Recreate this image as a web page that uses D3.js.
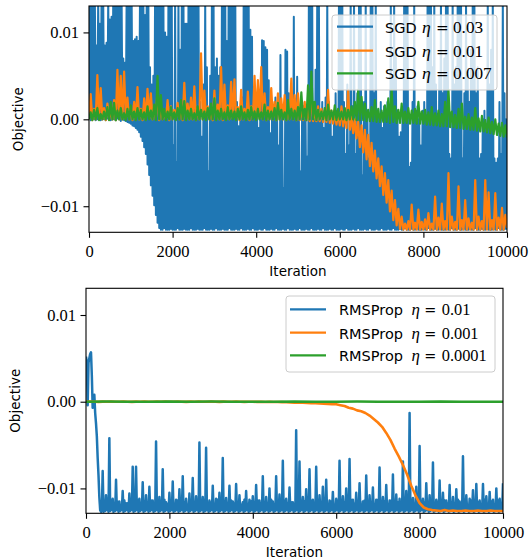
<!DOCTYPE html>
<html><head><meta charset="utf-8">
<script src="https://cdn.jsdelivr.net/npm/d3@7"></script>
<style>body{margin:0;background:#fff}svg{display:block}</style>
</head><body>
<svg id="c" width="529" height="560"></svg>
<script>
// ---------------- data (objective value vs iteration, evenly sampled over 0..10000) ----------------
const ITER_MAX = 10000;
const xTicks = [0, 2000, 4000, 6000, 8000, 10000];
const xTickLabels = ["0", "2000", "4000", "6000", "8000", "10000"];
const yTicks = [-0.01, 0, 0.01];
const yTickLabels = ["\u22120.01", "0.00", "0.01"];
const colors = ["#1f77b4", "#ff7f0e", "#2ca02c"];

const sgdNames = ["SGD", "SGD", "SGD"];
const sgdEtas = ["0.03", "0.01", "0.007"];
const rmsNames = ["RMSProp", "RMSProp", "RMSProp"];
const rmsEtas = ["0.01", "0.001", "0.0001"];

// SGD eta = 0.03 (sample every 20 iterations)
const sgd003 = [
0,.014,-.0001,.014,.0001,.014,0,.014,-.0001,.0085,0,.014,.0001,.011,-.0001,.014,0,.014,0,.0085,
-.0001,.0088,.0001,.014,0,.0115,-.0001,.0118,0,.014,0,.014,-.0001,.014,.0001,.014,0,.014,-.0002,.014,
0,.007,-.0001,.0065,-.0002,.014,-.0003,.014,-.0004,.014,-.0005,.014,-.0007,.009,-.0008,.0092,-.001,.0095,-.0012,.009,
-.0015,.014,-.002,.014,-.0025,.014,-.0032,.012,-.004,.014,-.0052,.014,-.0064,.006,-.0076,.004,-.0088,.005,-.0099,.014,
-.011,.014,-.0119,.014,-.0125,.014,-.0127,.014,-.0127,.014,-.0125,.01,-.0127,.0095,-.0127,.014,-.0127,.014,-.0126,.014,
-.0127,-.003,-.0127,.014,-.0127,-.005,-.0125,.014,-.0127,.008,-.0127,.014,-.0127,.014,-.0126,.011,-.0127,.011,-.0127,.014,
-.0127,.014,-.0125,.014,-.0127,.013,-.0127,.014,-.0127,.014,-.0126,.014,-.0127,.002,-.0127,-.002,-.0127,.004,-.0125,.014,
-.0127,.006,-.0127,-.006,-.0127,.005,-.0126,.014,-.0127,.014,-.0127,.006,-.0125,.007,-.0127,.005,-.0127,.006,-.0127,.014,
-.0126,.014,-.0127,.014,-.0127,.009,-.0127,.014,-.0125,.014,-.0127,.014,-.0127,.014,-.0127,.014,-.0126,.002,-.0127,-.0008,
-.0127,.001,-.0125,.0025,-.0127,.014,-.0127,.014,-.0127,.014,-.0126,.014,-.0127,.0103,-.0127,.0095,-.0125,.002,-.0127,.001,
-.0127,.0015,-.0127,-.001,-.0126,.003,-.0127,.0091,-.0127,.009,-.0125,.0083,-.0127,.008,-.0127,.0045,-.0127,-.0016,-.0126,.002,
-.0127,.001,-.0127,.0025,-.0125,.0005,-.0127,-.003,-.0127,.0074,-.0127,.001,-.0126,-.0079,-.0127,.008,-.0127,.0078,-.0125,.003,
-.0127,.001,-.0127,.002,-.0127,.0118,-.0126,.0005,-.0127,.0049,-.0127,.001,-.0125,-.006,-.0127,.002,-.0127,.0015,-.0127,.001,
-.0126,-.0043,-.0127,.014,-.0127,.014,-.0125,.014,-.0127,.002,-.0127,.0057,-.0127,.014,-.0126,.014,-.0127,.001,-.0127,.002,
-.0125,-.001,-.0127,.0025,-.0127,.014,-.0127,.002,-.0126,.001,-.0127,-.002,-.0127,.0005,-.0125,.003,-.0127,.001,-.0127,.014,
-.0127,.014,-.0126,.014,-.0127,.002,-.0127,-.004,-.0125,.004,-.0127,-.003,-.0127,.014,-.0127,.0015,-.0126,.014,-.0127,-.004,
-.0127,.003,-.0125,.014,-.0127,.014,-.0127,-.0065,-.0127,.002,-.0126,.014,-.0127,.001,-.0127,-.0045,-.0125,.014,-.0127,.014,
-.0127,.003,-.0127,.014,-.0126,.001,-.0127,.0005,-.0127,.002,-.0125,-.001,-.0127,.0015,-.0127,.001,-.0127,.002,-.0126,.0008,
-.0127,.014,-.0127,.005,-.0125,.014,-.0127,.008,-.0127,.001,-.0127,-.002,-.0126,-.0015,-.0127,.0005,-.0127,.014,-.0125,.014,
-.0127,.014,-.0127,-.0055,-.0127,-.005,-.0126,.002,-.0127,.014,-.0127,.001,-.0125,.0015,-.0127,0,-.0127,-.003,-.0127,.001,
-.0126,.002,-.0127,.0005,-.0127,.014,-.0125,.014,-.0127,.014,-.0127,.006,-.0127,.014,-.0126,.004,-.0127,0,-.0127,.005,
-.0125,.014,-.0127,.003,-.0127,.007,-.0127,.014,-.0126,.014,-.0127,-.004,-.0127,-.0045,-.0125,.014,-.0127,.004,-.0127,.006,
-.0127,.014,-.0126,.014,-.0127,.014,-.0127,-.0045,-.0125,.003,-.0127,.014,-.0127,.005,-.0127,.002,-.0126,.008,-.0127,.014,
-.0127,.014,-.0125,.003,-.0127,.006,-.0127,-.0045,-.0127,-.004,-.0126,0,-.0127,.001,-.0127,-.001,-.0125,.014,-.0127,.004,
-.0127,.008,-.0127,.014,-.0126,-.0045,-.0127,-.005,-.0127,-.0045,-.0125,.002,-.0127,-.004,-.0127,.014,-.0127,.003,-.0126,0,
-.0127
];

// SGD eta = 0.01 (sample every 40 iterations)
const sgd001 = [
0,.0029,-.0001,.0012,0,.0051,.0001,.0036,0,.0013,-.0001,.0018,0,.001,0,.0022,-.0001,.0057,0,.005,
0,.0055,.0001,.0025,0,.0014,-.0001,.002,0,.0037,0,.0012,-.0001,.0024,0,.0035,.0001,.003,0,.0016,
0,.0036,-.0001,.0013,0,.0009,0,.0022,-.0001,.0015,0,.0011,.0001,.0019,0,.0014,-.0001,.0042,0,.0018,
0,.0025,0,.0038,-.0001,.0012,0,.0076,0,.0033,.0001,.0015,0,.001,-.0001,.0033,0,.0017,0,.006,
-.0001,.004,0,.0016,0,.0043,.0001,.0046,0,.0014,-.0001,.0034,0,.0012,0,.0032,-.0001,.0015,0,.005,
0,.0045,.0001,.006,0,.003,-.0001,.0014,0,.0036,0,.002,-.0001,.003,0,.0024,0,.0028,-.0001,.0013,
0,.0047,0,.0028,-.0001,.003,-.0001,.0012,-.0001,.002,-.0001,.001,-.0002,.0033,-.0002,.0011,-.0002,.0015,
-.0002,.0012,-.0003,.001,-.0003,.0034,-.0004,.001,-.0005,.0009,-.0006,.0008,-.0007,.0015,-.0008,.0006,-.001,.0034,-.0012,.0003,-.0016,0,
-.0022,-.0003,-.0032,-.0007,-.0038,-.0012,-.0046,-.0018,-.0054,-.0027,-.006,-.0036,-.0068,-.0045,-.0077,-.0054,-.0087,-.0062,-.0096,-.007,
-.0106,-.0082,-.0116,-.0093,-.0122,-.0103,-.0126,-.0112,-.0127,-.012,-.0127,-.0117,-.0127,-.0098,-.0127,-.0119,-.0127,-.0104,-.0127,-.0118,
-.0127,-.0115,-.0127,-.0108,-.0127,-.012,-.0127,-.0089,-.0127,-.0113,-.0127,-.0097,-.0127,-.0117,-.0127,-.0062,-.0127,-.0112,-.0127,-.0118,
-.0127,-.0077,-.0127,-.0116,-.0127,-.0093,-.0127,-.0114,-.0127,-.0119,-.0127,-.007,-.0127,-.0112,-.0127,-.0117,-.0127,-.007,-.0127,-.0084,
-.0127,-.0116,-.0127,-.0085,-.0127,-.0113,-.0127,-.0102,-.0127,-.011,
-.0125
];

// SGD eta = 0.007 (sample every 40 iterations)
const sgd0007 = [
0,.0008,-.0001,.0011,0,.0013,-.0001,.0006,0,.0009,0,.0014,-.0001,.002,0,.0019,-.0001,.001,0,.0013,
0,.0007,-.0001,.0012,0,.0016,0,.0009,-.0001,.0013,0,.0011,0,.0008,-.0001,.0015,0,.001,0,.0017,
-.0001,.005,0,.0028,0,.0012,-.0001,.0009,0,.0014,0,.0008,-.0001,.0013,0,.0022,0,.0021,-.0001,.001,
0,.0012,0,.0007,-.0001,.0015,0,.0011,0,.0009,-.0001,.0013,0,.0018,0,.0024,-.0001,.001,0,.0012,
0,.0008,-.0001,.0014,0,.001,0,.0009,-.0001,.0012,0,.0015,0,.0008,-.0001,.0011,0,.0014,0,.0009,
-.0001,.0012,0,.0008,0,.0017,-.0001,.001,0,.0009,0,.0013,-.0001,.0019,0,.0011,0,.0008,-.0001,.0022,
0,.0012,0,.001,-.0001,.0014,0,.0031,0,.0012,-.0001,.0039,0,.0055,0,.002,-.0001,.0011,0,.0009,
0,.0013,-.0001,.0017,0,.001,0,.0016,-.0001,.0012,0,.0009,0,.0013,-.0001,.0011,0,.0015,0,.002,
-.0001,.0034,-.0001,.0026,-.0001,.0018,-.0002,.0011,-.0002,.0014,-.0002,.0022,-.0003,.0012,-.0003,.001,-.0003,.0016,-.0003,.0024,
-.0004,.0034,-.0003,.0015,-.0004,.0011,-.0004,.0018,-.0004,.0009,-.0004,.0013,-.0005,.001,-.0004,.0012,-.0005,.002,-.0005,.0009,
-.0005,.0011,-.0006,.0008,-.0006,.0014,-.0007,.0007,-.0007,.001,-.0008,.0006,-.0008,.002,-.0008,.0034,-.0009,.0009,-.0009,.0005,
-.001,.0012,-.001,.0018,-.0011,.0003,-.0011,.0006,-.0012,.0002,-.0012,.0013,-.0013,.0001,-.0014,.0004,-.0014,-.0001,-.0015,.0002,
-.0016,-.0003,-.0017,0,-.0018,-.0005,-.0019,-.0004,-.002,-.0007,
-.0021
];

// RMSProp eta = 0.01 (sample every 20 iterations)
const rms001 = [
.0052,.0046,-.0004,.0045,.005,.0055,.0057,.003,-.0007,.0002,.0008,-.0013,-.0025,-.004,-.0065,-.0085,-.011,-.0125,-.0127,
-.0126,
-.008,-.0127,-.0116,-.0126,-.0108,-.0125,-.0119,-.0127,-.0042,-.0126,-.0113,-.0125,-.0112,-.0127,-.0118,-.0126,-.009,-.0125,-.0115,-.0127,
-.0115,-.0126,-.012,-.0125,-.0103,-.0127,-.0114,-.0126,-.0117,-.0125,-.0117,-.0127,-.0106,-.0126,-.0116,-.0125,-.0075,-.0127,-.0119,-.0126,
-.0075,-.0125,-.0113,-.0127,-.0112,-.0126,-.0118,-.0125,-.0093,-.0127,-.0115,-.0126,-.0108,-.0125,-.012,-.0127,-.0098,-.0126,-.0114,-.0125,
-.0114,-.0127,-.0117,-.0126,-.0046,-.0125,-.0116,-.0127,-.011,-.0126,-.0119,-.0125,-.0078,-.0127,-.0113,-.0126,-.0116,-.0125,-.0118,-.0127,
-.0105,-.0126,-.0115,-.0125,-.0092,-.0127,-.012,-.0126,-.0113,-.0125,-.0114,-.0127,-.0101,-.0126,-.0117,-.0125,-.0086,-.0127,-.0116,-.0126,
-.0112,-.0125,-.0119,-.0127,-.0106,-.0126,-.0113,-.0125,-.0088,-.0127,-.0118,-.0126,-.0109,-.0125,-.0115,-.0127,-.0047,-.0126,-.012,-.0125,
-.011,-.0127,-.0114,-.0126,-.0053,-.0125,-.0117,-.0127,-.0114,-.0126,-.0116,-.0125,-.0097,-.0127,-.0119,-.0126,-.0112,-.0125,-.0113,-.0127,
-.0105,-.0126,-.0118,-.0125,-.0065,-.0127,-.0115,-.0126,-.0111,-.0125,-.012,-.0127,-.0097,-.0126,-.0114,-.0125,-.0115,-.0127,-.0117,-.0126,
-.0095,-.0125,-.0116,-.0127,-.0108,-.0126,-.0119,-.0125,-.0116,-.0127,-.0113,-.0126,-.0103,-.0125,-.0118,-.0127,-.0113,-.0126,-.0115,-.0125,
-.0109,-.0127,-.012,-.0126,-.0096,-.0125,-.0114,-.0127,-.0114,-.0126,-.0117,-.0125,-.0086,-.0127,-.0116,-.0126,-.011,-.0125,-.0119,-.0127,
-.01,-.0126,-.0113,-.0125,-.0115,-.0127,-.0118,-.0126,-.0086,-.0125,-.0115,-.0127,-.0107,-.0126,-.012,-.0125,-.0068,-.0127,-.0114,-.0126,
-.0112,-.0125,-.0117,-.0127,-.0099,-.0126,-.0116,-.0125,-.0116,-.0127,-.0119,-.0126,-.0033,-.0125,-.0113,-.0127,-.0069,-.0126,-.0118,-.0125,
-.011,-.0127,-.0115,-.0126,-.0101,-.0125,-.012,-.0127,-.0078,-.0126,-.0114,-.0125,-.0113,-.0127,-.0117,-.0126,-.0075,-.0125,-.0116,-.0127,
-.0108,-.0126,-.0119,-.0125,-.0098,-.0127,-.0113,-.0126,-.009,-.0125,-.0118,-.0127,-.0114,-.0126,-.0115,-.0125,-.0104,-.0127,-.012,-.0126,
-.0112,-.0125,-.0114,-.0127,-.0068,-.0126,-.0117,-.0125,-.0109,-.0127,-.0116,-.0126,-.01,-.0125,-.0119,-.0127,-.0066,-.0126,-.0113,-.0125,
-.0113,-.0127,-.0118,-.0126,-.0105,-.0125,-.0115,-.0127,-.0094,-.0126,-.012,-.0125,-.0115,-.0127,-.0114,-.0126,-.0085,-.0125,-.0117,-.0127,
-.0108,-.0126,-.0116,-.0125,-.0099,-.0127,-.0119,-.0126,-.0113,-.0125,-.0113,-.0127,-.0076,-.0126,-.0118,-.0125,-.011,-.0127,-.0115,-.0126,
-.0096,-.0125,-.012,-.0127,-.0114,-.0126,-.0114,-.0125,-.0084,-.0127,-.0117,-.0126,-.0107,-.0125,-.0116,-.0127,-.0112,-.0126,-.0119,-.0125,
-.0069,-.0127,-.0113,-.0126,-.0103,-.0125,-.0118,-.0127,-.0013,-.0126,-.0115,-.0125,-.0111,-.0127,-.012,-.0126,-.0098,-.0125,-.0114,-.0127,
-.0051,-.0126,-.0117,-.0125,-.0112,-.0127,-.0116,-.0126,-.0094,-.0125,-.0119,-.0127,-.0108,-.0126,-.0113,-.0125,-.007,-.0127,-.0118,-.0126,
-.0113,-.0125,-.0115,-.0127,-.0091,-.0126,-.012,-.0125,-.0105,-.0127,-.0114,-.0126,-.0114,-.0125,-.0117,-.0127,-.0096,-.0126,-.0116,-.0125,
-.011,-.0127,-.0119,-.0126,-.0101,-.0125,-.0113,-.0127,-.0115,-.0126,-.0118,-.0125,-.0063,-.0127,-.0115,-.0126,-.0108,-.0125,-.012,-.0127,
-.0112,-.0126,-.0114,-.0125,-.0102,-.0127,-.0117,-.0126,-.0095,-.0125,-.0116,-.0127,-.0114,-.0126,-.0119,-.0125,-.0095,-.0127,-.0113,-.0126,
-.0109,-.0125,-.0118,-.0127,-.0104,-.0126,-.0115,-.0125,-.0113,-.0127,-.012,-.0126,-.01,-.0125,-.0114,-.0127,-.0112,-.0126,-.0117,-.0125,
-.0094
];

// RMSProp eta = 0.001 (sample every 100 iterations)
const rms0001 = [
0,.00002,0,-.00002,.00001,0,.00002,-.00001,0,.00001,
0,-.00002,.00001,0,.00002,0,-.00001,.00001,0,.00002,
0,-.00001,.00001,0,-.00002,.00001,0,.00002,-.00001,0,
.00001,0,-.00002,.00001,0,-.00001,.00002,0,-.00002,-.00001,
0,-.00002,-.00001,-.00003,-.00002,-.00004,-.00003,-.00005,-.00006,-.00008,
-.0001,-.0001,-.00012,-.00013,-.00016,-.00018,-.0002,-.00022,-.00026,-.00028,
-.0003,-.0004,-.0005,-.0007,-.0008,-.001,-.0011,-.0013,-.0016,-.002,
-.0024,-.0029,-.0036,-.0044,-.0054,-.0063,-.0073,-.0084,-.0097,-.0108,
-.0117,-.0122,-.0124,-.0125,-.01255,-.0126,-.0125,-.0126,-.01255,-.0126,
-.0126,-.01255,-.0126,-.0126,-.01255,-.0126,-.0126,-.01255,-.0126,-.0126,-.0126
];

// RMSProp eta = 0.0001 (sample every 500 iterations)
const rms00001 = [0,.00002,0,-.00001,.00001,0,.00002,0,-.00001,0,.00001,0,0,.00002,0,-.00001,0,.00001,0,0,0];

// ---------------- drawing ----------------
const svg = d3.select("#c");
const SERIF = "'Liberation Serif', 'Times New Roman', serif";
const SANS = "'DejaVu Sans', sans-serif";

const panels = [
  { id: "top", left: 89, right: 507, top: 6, bottom: 232.3, yDomain: [-0.0130, 0.01304],
    series: [sgd003, sgd001, sgd0007], widths: [2, 2.2, 2.2],
    names: sgdNames, etas: sgdEtas,
    legend: { x: 332, y: 15, w: 165, h: 75, rows: [26.7, 50.7, 73.3], lx0: 337, lx1: 373, tx: 385,
              etaX: 422, eqX: 436, numX: 453, mathSize: 17.2 },
    ylabelX: 22.5, xlabelY: 276 },
  { id: "bot", left: 86, right: 503, top: 288.3, bottom: 513.3, yDomain: [-0.01287, 0.01308],
    series: [rms001, rms0001, rms00001], widths: [2.5, 2.6, 2.6],
    names: rmsNames, etas: rmsEtas,
    legend: { x: 286, y: 296, w: 209, h: 76, rows: [309.3, 332.7, 355.3], lx0: 290, lx1: 326, tx: 339,
              etaX: 411.5, eqX: 424.3, numX: 441.7, mathSize: 16.4 },
    ylabelX: 20.2, xlabelY: 556.5 }
];

panels.forEach(p => {
  const x = d3.scaleLinear().domain([0, ITER_MAX]).range([p.left, p.right]);
  const y = d3.scaleLinear().domain(p.yDomain).range([p.bottom, p.top]);
  const g = svg.append("g");
  const clipId = "clip-" + p.id;
  svg.append("clipPath").attr("id", clipId).append("rect")
    .attr("x", p.left).attr("y", p.top).attr("width", p.right - p.left).attr("height", p.bottom - p.top);

  const plot = g.append("g").attr("clip-path", `url(#${clipId})`);
  p.series.forEach((vals, i) => {
    const n = vals.length;
    const line = d3.line().x((d, j) => x(j * ITER_MAX / (n - 1))).y(d => y(d));
    plot.append("path").attr("d", line(vals)).attr("fill", "none")
      .attr("stroke", colors[i]).attr("stroke-width", p.widths[i])
      .attr("stroke-linejoin", "round").attr("stroke-linecap", "butt");
  });

  // axes
  const xa = g.append("g").attr("transform", `translate(0,${p.bottom})`)
    .call(d3.axisBottom(x).tickValues(xTicks).tickFormat((d, i) => xTickLabels[i])
      .tickSize(5.5).tickPadding(7.5).tickSizeOuter(0));
  xa.select(".domain").remove();
  xa.attr("font-family", SERIF).attr("font-size", 16.5);
  xa.selectAll(".tick line").attr("stroke", "#000").attr("stroke-width", 1.1);
  xa.selectAll(".tick text").attr("fill", "#000");

  const ya = g.append("g").attr("transform", `translate(${p.left},0)`)
    .call(d3.axisLeft(y).tickValues(yTicks).tickFormat((d, i) => yTickLabels[i])
      .tickSize(5.5).tickPadding(4.5).tickSizeOuter(0));
  ya.select(".domain").remove();
  ya.attr("font-family", SERIF).attr("font-size", 16.5);
  ya.selectAll(".tick line").attr("stroke", "#000").attr("stroke-width", 1.1);
  ya.selectAll(".tick text").attr("fill", "#000");

  // spines
  g.append("rect").attr("x", p.left).attr("y", p.top)
    .attr("width", p.right - p.left).attr("height", p.bottom - p.top)
    .attr("fill", "none").attr("stroke", "#000").attr("stroke-width", 1.1);

  // axis labels
  g.append("text").attr("x", (p.left + p.right) / 2).attr("y", p.xlabelY)
    .attr("text-anchor", "middle").attr("font-family", SANS).attr("font-size", 13.5)
    .attr("fill", "#000").text("Iteration");
  g.append("text").attr("transform", `translate(${p.ylabelX},${(p.top + p.bottom) / 2}) rotate(-90)`)
    .attr("text-anchor", "middle").attr("font-family", SANS).attr("font-size", 13.5)
    .attr("fill", "#000").text("Objective");

  // legend
  const L = p.legend;
  const lg = g.append("g");
  lg.append("rect").attr("x", L.x).attr("y", L.y).attr("width", L.w).attr("height", L.h)
    .attr("rx", 3).attr("fill", "#fff").attr("fill-opacity", 0.8)
    .attr("stroke", "#cccccc").attr("stroke-width", 1);
  L.rows.forEach((ry, i) => {
    lg.append("line").attr("x1", L.lx0).attr("x2", L.lx1).attr("y1", ry).attr("y2", ry)
      .attr("stroke", colors[i]).attr("stroke-width", 2.2);
    const t = lg.append("text").attr("y", ry + 6).attr("fill", "#000");
    t.append("tspan").attr("x", L.tx).attr("font-family", SANS).attr("font-size", 14.5).text(p.names[i]);
    t.append("tspan").attr("x", L.etaX).attr("font-family", SERIF).attr("font-style", "italic")
      .attr("font-size", L.mathSize + 0.5).text("\u03b7");
    t.append("tspan").attr("x", L.eqX).attr("font-family", "'DejaVu Serif', serif")
      .attr("font-size", L.mathSize - 2).text("=");
    t.append("tspan").attr("x", L.numX).attr("font-family", SERIF).attr("font-size", L.mathSize).text(p.etas[i]);
  });
});
</script>
</body></html>
